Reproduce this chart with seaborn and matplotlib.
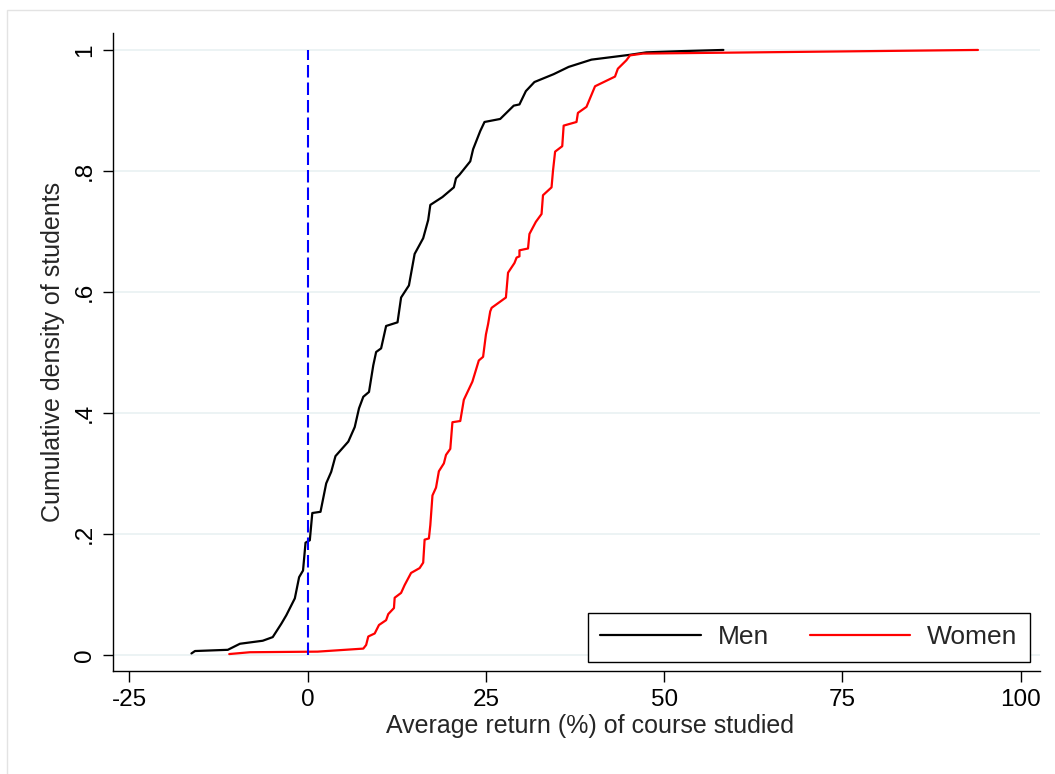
import matplotlib
matplotlib.use("Agg")
import matplotlib.pyplot as plt
import seaborn as sns
import pandas as pd
from matplotlib.patches import Rectangle

# ---- data ----
men_x = [-16.3, -15.8, -11.2, -9.5, -6.3, -4.9, -3.7, -3.0, -1.8, -1.2, -0.65, -0.3, 0.3, 0.65,
         1.8, 2.6, 3.3, 3.9, 5.7, 6.6, 7.2, 7.8, 8.6, 9.2, 9.6, 10.3, 11.0, 12.6, 13.1, 14.2,
         15.0, 16.2, 16.9, 17.2, 18.9, 20.5, 20.8, 21.3, 22.8, 23.2, 24.2, 24.8, 27.0, 28.9,
         29.7, 30.6, 31.8, 34.5, 36.6, 39.8, 45.2, 47.5, 52.2, 58.3]
men_y = [0.003, 0.007, 0.009, 0.019, 0.024, 0.030, 0.052, 0.066, 0.094, 0.129, 0.140, 0.186, 0.190, 0.235,
         0.237, 0.284, 0.303, 0.329, 0.353, 0.377, 0.408, 0.427, 0.435, 0.479, 0.501, 0.507, 0.544, 0.550, 0.591, 0.611,
         0.663, 0.689, 0.719, 0.744, 0.757, 0.773, 0.788, 0.794, 0.816, 0.836, 0.866, 0.881, 0.886, 0.908,
         0.910, 0.932, 0.947, 0.960, 0.972, 0.984, 0.992, 0.996, 0.998, 1.0]

women_x = [-11.0, -8.1, 1.4, 7.8, 8.2, 8.5, 9.4, 10.0, 11.0, 11.3, 12.1, 12.2, 13.1, 13.6, 14.5,
           15.7, 16.2, 16.4, 17.0, 17.2, 17.5, 18.0, 18.4, 19.1, 19.4, 20.0, 20.3, 21.4, 21.9,
           23.1, 24.0, 24.6, 25.0, 25.3, 25.6, 25.8, 27.8, 28.1, 29.0, 29.3, 29.7, 29.7, 30.9,
           31.1, 32.0, 32.8, 33.0, 34.2, 34.4, 34.7, 35.7, 35.9, 37.7, 37.9, 39.1, 40.3, 43.1,
           43.5, 44.7, 45.2, 47.0, 94.0]
women_y = [0.002, 0.005, 0.006, 0.011, 0.017, 0.031, 0.036, 0.050, 0.058, 0.068, 0.078, 0.095, 0.103, 0.116, 0.136,
           0.144, 0.153, 0.191, 0.193, 0.215, 0.264, 0.277, 0.304, 0.317, 0.331, 0.341, 0.385, 0.387, 0.422,
           0.452, 0.487, 0.493, 0.530, 0.547, 0.568, 0.574, 0.591, 0.632, 0.648, 0.657, 0.659, 0.669, 0.672,
           0.696, 0.716, 0.729, 0.760, 0.773, 0.800, 0.832, 0.841, 0.875, 0.881, 0.896, 0.906, 0.940, 0.956,
           0.969, 0.983, 0.991, 0.994, 1.0]

x_ticks = [-25, 0, 25, 50, 75, 100]
x_tick_labels = ["-25", "0", "25", "50", "75", "100"]
y_ticks = [0, 0.2, 0.4, 0.6, 0.8, 1.0]
y_tick_labels = ["0", ".2", ".4", ".6", ".8", "1"]
series_names = ["Men", "Women"]

# ---- style ----
sns.set_style("white")
plt.rcParams["font.family"] = ["Liberation Sans", "DejaVu Sans"]

FS = 17.5

fig = plt.figure(figsize=(10.55, 7.74), dpi=100)
# light outer frame (graph region border)
fig.patches.append(Rectangle((7 / 1055, -0.1), 1.2, 1 - 10 / 774 + 0.1, transform=fig.transFigure,
                             fill=False, edgecolor="#e3e3e3", linewidth=1.0, zorder=0))
ax = fig.add_axes([113 / 1055, 1 - 671 / 774, 927 / 1055, 638 / 774])
ax.set_facecolor("none")

df = pd.concat([
    pd.DataFrame({"x": men_x, "y": men_y, "group": series_names[0]}),
    pd.DataFrame({"x": women_x, "y": women_y, "group": series_names[1]}),
], ignore_index=True)

sns.lineplot(data=df, x="x", y="y", hue="group", palette={"Men": "black", "Women": "red"},
             estimator=None, sort=False, linewidth=1.6, ax=ax, zorder=3)

ax.vlines(0, 0, 1, colors="#0000ff", linestyles=(0, (6, 2.4)), linewidth=1.5, zorder=4)

ax.set_xlim(-27.3, 102.7)
ax.set_ylim(-0.026, 1.028)
ax.set_xticks(x_ticks)
ax.set_xticklabels(x_tick_labels)
ax.set_yticks(y_ticks)
ax.set_yticklabels(y_tick_labels, rotation=90, va="center")

ax.yaxis.grid(True, color="#eaf2f3", linewidth=1.3)
ax.xaxis.grid(False)
for s in ["top", "right"]:
    ax.spines[s].set_visible(False)
for s in ["left", "bottom"]:
    ax.spines[s].set_color("black")
    ax.spines[s].set_linewidth(1.0)

ax.tick_params(axis="x", which="major", direction="out", length=8, width=1.0,
               colors="black", labelsize=FS, pad=5, bottom=True)
ax.tick_params(axis="y", which="major", direction="out", length=7.5, width=1.0,
               colors="black", labelsize=FS, pad=5, left=True)

ax.set_xlabel("Average return (%) of course studied", fontsize=FS + 0.5)
ax.xaxis.set_label_coords(0.5146, -0.068)
ax.xaxis.label.set_verticalalignment("top")
ax.set_ylabel("Cumulative density of students", fontsize=FS + 0.5, labelpad=6)

leg = ax.legend(loc="lower right", bbox_to_anchor=(0.989, 0.014), ncol=2, fontsize=19,
                frameon=True, fancybox=False, edgecolor="black", framealpha=1,
                handlelength=3.8, handletextpad=0.64, columnspacing=1.55, borderpad=0.48,
                borderaxespad=0)
leg.get_frame().set_linewidth(1.0)
for h in leg.get_lines():
    h.set_linewidth(1.6)
leg.set_title(None)

fig.savefig("out.png", dpi=100)
